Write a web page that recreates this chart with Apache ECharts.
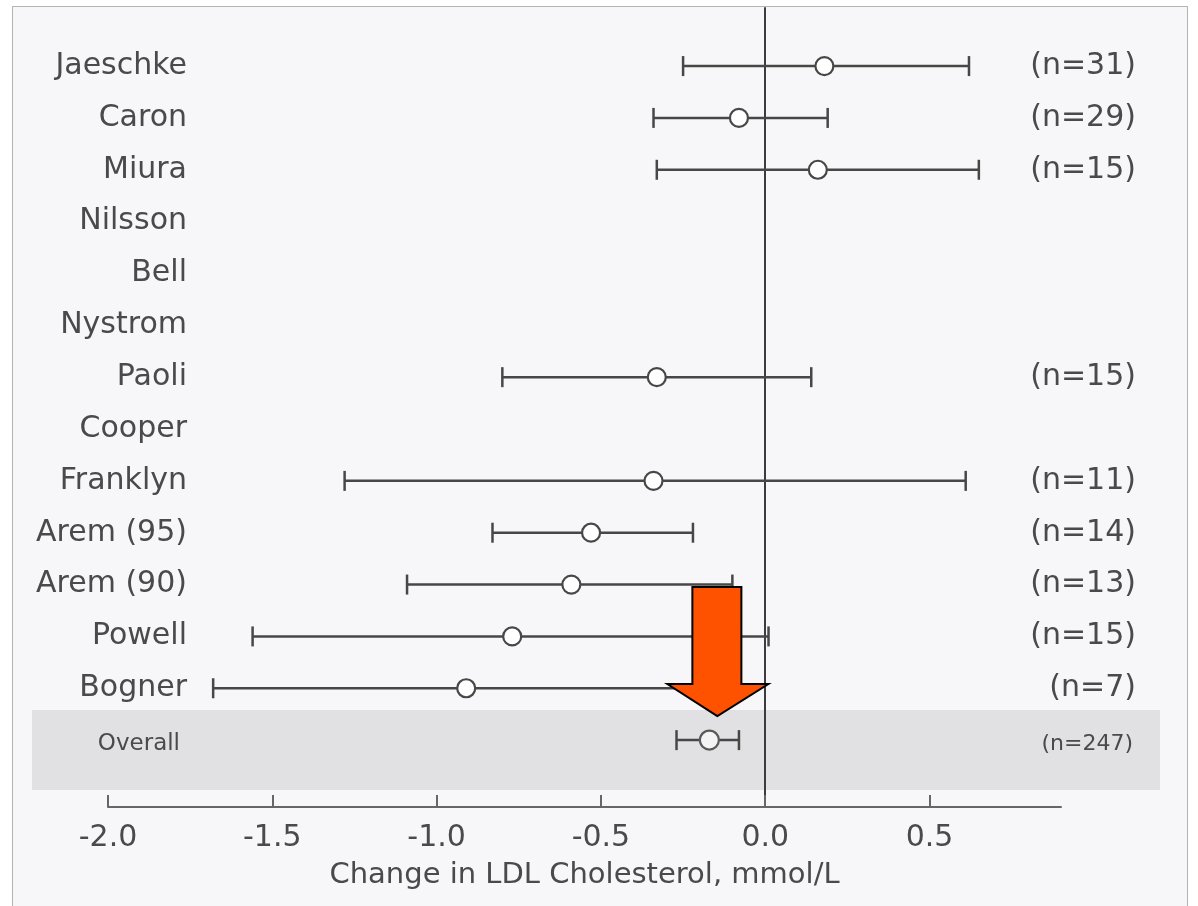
<!DOCTYPE html>
<html>
<head>
<meta charset="utf-8">
<script src="https://cdn.jsdelivr.net/npm/echarts@6/dist/echarts.min.js"></script>
<style>
  html, body { margin: 0; padding: 0; background: #ffffff; }
  #frame { position: absolute; left: 12px; top: 6px; width: 1174px; height: 910px;
           border: 1px solid #b4b4b4; border-bottom: none; background: #f7f7f9; }
  #main { position: absolute; left: 0; top: 0; width: 1198px; height: 906px; }
</style>
</head>
<body>
<div id="frame"></div>
<div id="main"></div>
<script>
var myChart = echarts.init(document.getElementById('main'));

// rows from top to bottom
var studies = ['Jaeschke', 'Caron', 'Miura', 'Nilsson', 'Bell', 'Nystrom', 'Paoli', 'Cooper',
               'Franklyn', 'Arem (95)', 'Arem (90)', 'Powell', 'Bogner', 'Overall'];
var means = [0.18, -0.08, 0.16, null, null, null, -0.33, null, -0.34, -0.53, -0.59, -0.77, -0.91, -0.17];
var lows  = [-0.25, -0.34, -0.33, null, null, null, -0.80, null, -1.28, -0.83, -1.09, -1.56, -1.68, -0.27];
var highs = [0.62, 0.19, 0.65, null, null, null, 0.14, null, 0.61, -0.22, -0.10, 0.01, -0.13, -0.08];
var sizes = ['(n=31)', '(n=29)', '(n=15)', '', '', '', '(n=15)', '', '(n=11)', '(n=14)', '(n=13)', '(n=15)', '(n=7)', '(n=247)'];
var tickValues = [-2.0, -1.5, -1.0, -0.5, 0.0, 0.5];

var X_MIN = -2.0, X_MAX = 0.9;
var OVERALL = studies.length - 1;
var FONT = 'DejaVu Sans';
var TEXT = '#4a4a4a';
var LINE = '#474747';

var nameData = [], sizeData = [], barData = [], pointData = [];
studies.forEach(function (s, i) {
  var small = i === OVERALL;
  nameData.push({
    value: [X_MIN, i],
    label: small ? { formatter: s, fontSize: 23, offset: [72, 4] } : { formatter: s }
  });
  sizeData.push({
    value: [X_MAX, i],
    label: small ? { formatter: sizes[i], fontSize: 22, offset: [72, 4] } : { formatter: sizes[i] }
  });
  if (means[i] !== null) {
    barData.push([i, lows[i], highs[i]]);
    pointData.push(small ? { value: [means[i], i], symbolSize: 19, itemStyle: { color: '#f4f4f4', borderColor: '#5a5a5a' } }
                         : [means[i], i]);
  }
});

var option = {
  animation: false,
  grid: { left: 108, right: 137, top: 8, bottom: 99 },
  xAxis: {
    type: 'value',
    min: X_MIN,
    max: X_MAX,
    name: 'Change in LDL Cholesterol, mmol/L',
    nameLocation: 'middle',
    nameGap: 54,
    nameTextStyle: { fontFamily: FONT, fontSize: 29, color: TEXT },
    axisLine: { onZero: false, lineStyle: { color: '#666', width: 2 } },
    axisTick: { inside: true, length: 12, customValues: tickValues, lineStyle: { color: '#666', width: 2 } },
    axisLabel: {
      customValues: tickValues, margin: 16, fontFamily: FONT, fontSize: 30, color: TEXT,
      formatter: function (v) { return v.toFixed(1); }
    },
    splitLine: { show: false }
  },
  yAxis: {
    type: 'value',
    inverse: true,
    min: -1.12,
    max: 14.29,
    axisLine: { show: true, onZero: true, lineStyle: { color: '#3c3c3c', width: 2 } },
    axisTick: { show: false },
    axisLabel: { show: false },
    splitLine: { show: false }
  },
  series: [
    {
      // shaded band behind the overall estimate
      type: 'custom',
      z: -1,
      silent: true,
      data: [[OVERALL]],
      renderItem: function (params, api) {
        var top = api.coord([0, api.value(0) - 0.58])[1];
        var bot = api.coord([0, api.value(0) + 0.96])[1];
        return { type: 'rect', shape: { x: 32, y: top, width: 1128, height: bot - top },
                 style: { fill: '#e1e1e3' } };
      }
    },
    {
      type: 'custom',
      data: barData,
      encode: { x: [1, 2], y: 0 },
      renderItem: function (params, api) {
        var row = api.value(0);
        var a = api.coord([api.value(1), row]);
        var b = api.coord([api.value(2), row]);
        var h = 10;
        var st = { stroke: LINE, lineWidth: 2.5 };
        return {
          type: 'group',
          children: [
            { type: 'line', shape: { x1: a[0], y1: a[1], x2: b[0], y2: b[1] }, style: st },
            { type: 'line', shape: { x1: a[0], y1: a[1] - h, x2: a[0], y2: a[1] + h }, style: st },
            { type: 'line', shape: { x1: b[0], y1: b[1] - h, x2: b[0], y2: b[1] + h }, style: st }
          ]
        };
      }
    },
    {
      type: 'scatter',
      symbol: 'circle',
      symbolSize: 18,
      itemStyle: { color: '#ffffff', borderColor: LINE, borderWidth: 2.2, opacity: 1 },
      data: pointData,
      z: 3
    },
    {
      type: 'scatter',
      symbolSize: 0,
      silent: true,
      itemStyle: { opacity: 1 },
      data: nameData,
      label: { show: true, position: 'left', distance: 0, offset: [79, 0], align: 'right',
               fontFamily: FONT, fontSize: 30, color: TEXT }
    },
    {
      type: 'scatter',
      symbolSize: 0,
      silent: true,
      itemStyle: { opacity: 1 },
      data: sizeData,
      label: { show: true, position: 'left', distance: 0, offset: [75, 0], align: 'right',
               fontFamily: FONT, fontSize: 30, color: TEXT }
    },
    {
      // orange arrow pointing at the overall estimate
      type: 'custom',
      z: 5,
      silent: true,
      data: [[means[OVERALL], OVERALL]],
      renderItem: function (params, api) {
        var p = api.coord([api.value(0), api.value(1)]);
        var tx = p[0] + 8, ty = p[1] - 24;
        return {
          type: 'polygon',
          shape: { points: [
            [tx, ty], [tx - 50, ty - 32], [tx - 25, ty - 32], [tx - 25, ty - 129],
            [tx + 24, ty - 129], [tx + 24, ty - 32], [tx + 51, ty - 32]
          ] },
          style: { fill: '#ff5200', stroke: '#000', lineWidth: 2 }
        };
      }
    }
  ]
};

myChart.setOption(option);
</script>
</body>
</html>
